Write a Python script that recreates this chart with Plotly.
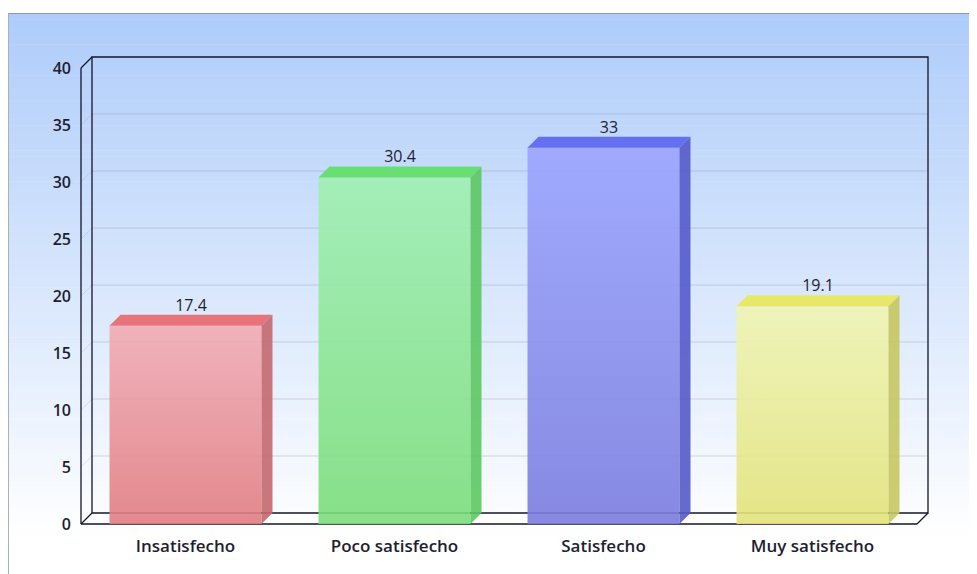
import plotly.graph_objects as go

# ---- data ----
categories = ["Insatisfecho", "Poco satisfecho", "Satisfecho", "Muy satisfecho"]
values = [17.4, 30.4, 33, 19.1]
value_labels = ["17.4", "30.4", "33", "19.1"]
y_ticks = [0, 5, 10, 15, 20, 25, 30, 35, 40]

# ---- styles ----
front_top = ["rgba(242,172,180,0.9)", "rgba(160,240,178,0.9)", "rgba(155,165,255,0.9)", "rgba(240,245,178,0.9)"]
front_bot = ["rgba(224,124,128,0.9)", "rgba(122,220,122,0.9)", "rgba(122,124,222,0.9)", "rgba(226,226,122,0.9)"]
top_col = ["rgba(232,110,116,0.95)", "rgba(100,222,108,0.95)", "rgba(96,106,240,0.95)", "rgba(232,232,98,0.95)"]
side_col = ["rgba(196,104,110,0.9)", "rgba(92,200,98,0.9)", "rgba(84,90,200,0.9)", "rgba(198,198,96,0.9)"]

OFF = 8  # page body margin
W, H = 977 - OFF, 574 - OFF
# pixel geometry of the 3D box (figure coordinates)
X0, X1 = 81 - OFF, 917 - OFF      # front left / right
Y0, Y40 = 524 - OFF, 68 - OFF     # front value 0 / 40
DXP, DYP = 11, 11                 # depth offset in px
PAD = 2
pxu_x = (X1 - X0) / 4.0
pxu_y = (Y0 - Y40) / 40.0
dx = DXP / pxu_x
dy = DYP / pxu_y
L, R = X0 - PAD, X1 + DXP + PAD
T, B = Y40 - DYP - PAD, Y0 + PAD
bar_w = 152 / pxu_x

def px_to_paper_x(p):
    return (p - L) / (R - L)

def px_to_paper_y(p):
    return (B - p) / (B - T)

fig = go.Figure()

xs = list(range(len(categories)))
for i, v in enumerate(values):
    x0 = xs[i] - bar_w / 2
    x1 = xs[i] + bar_w / 2
    # front face
    fig.add_trace(go.Scatter(
        x=[x0, x1, x1, x0, x0], y=[0, 0, v, v, 0], mode="lines", fill="toself",
        line=dict(width=0), fillcolor=front_bot[i],
        fillgradient=dict(type="vertical", colorscale=[[0, front_bot[i]], [1, front_top[i]]]),
        hoverinfo="skip", showlegend=False))
    # top face
    fig.add_trace(go.Scatter(
        x=[x0, x1, x1 + dx, x0 + dx, x0], y=[v, v, v + dy, v + dy, v], mode="lines", fill="toself",
        line=dict(width=0), fillcolor=top_col[i], hoverinfo="skip", showlegend=False))
    # side face
    fig.add_trace(go.Scatter(
        x=[x1, x1 + dx, x1 + dx, x1, x1], y=[0, dy, v + dy, v, 0], mode="lines", fill="toself",
        line=dict(width=0), fillcolor=side_col[i], hoverinfo="skip", showlegend=False))

# value labels
fig.add_trace(go.Scatter(
    x=[x + dx / 2 for x in xs], y=[v + dy for v in values], mode="text",
    text=value_labels, textposition="top center",
    textfont=dict(family="Open Sans", size=16, color="#1e1e30"),
    cliponaxis=False, hoverinfo="skip", showlegend=False))

shapes = []
# background gradient bands (container)
top_px, grad_end = 13 - OFF, 540 - OFF
c_top = (174, 204, 250)
nb = 90
for k in range(nb):
    p0 = top_px + (H - top_px) * k / nb
    p1 = top_px + (H - top_px) * (k + 1) / nb + 0.5
    t = min(1.0, max(0.0, ((p0 + p1) / 2 - top_px) / (grad_end - top_px)))
    col = tuple(int(round(c + (255 - c) * t)) for c in c_top)
    shapes.append(dict(type="rect", xref="paper", yref="paper", layer="below",
                       x0=px_to_paper_x(0), x1=px_to_paper_x(W + 2),
                       y0=px_to_paper_y(p1), y1=px_to_paper_y(p0),
                       fillcolor="rgb(%d,%d,%d)" % col, line=dict(width=0)))
# container border
shapes.append(dict(type="line", xref="paper", yref="paper", layer="below",
                   x0=px_to_paper_x(0.5), x1=px_to_paper_x(W + 2),
                   y0=px_to_paper_y(top_px + 0.5), y1=px_to_paper_y(top_px + 0.5),
                   line=dict(color="#8e98a6", width=1)))
shapes.append(dict(type="line", xref="paper", yref="paper", layer="below",
                   x0=px_to_paper_x(0.5), x1=px_to_paper_x(0.5),
                   y0=px_to_paper_y(top_px + 0.5), y1=px_to_paper_y(H + 2),
                   line=dict(color="#a8b0bb", width=1)))

xl, xr = -0.5, 3.5
# floor (white)
shapes.append(dict(type="path", xref="x", yref="y", layer="below",
                   path=f"M{xl},0 L{xr},0 L{xr+dx},{dy} L{xl+dx},{dy} Z",
                   fillcolor="white", line=dict(width=0)))
# gridlines on back wall + side wall
for v in y_ticks[1:-1]:
    shapes.append(dict(type="line", xref="x", yref="y", layer="below",
                       x0=xl + dx, x1=xr + dx, y0=v + dy, y1=v + dy,
                       line=dict(color="rgba(120,125,140,0.28)", width=1)))
    shapes.append(dict(type="line", xref="x", yref="y", layer="below",
                       x0=xl, x1=xl + dx, y0=v, y1=v + dy,
                       line=dict(color="rgba(120,125,140,0.18)", width=1)))
edge = dict(color="#14142a", width=1.3)
# back wall outline
shapes.append(dict(type="rect", xref="x", yref="y", layer="below",
                   x0=xl + dx, x1=xr + dx, y0=dy, y1=40 + dy, line=edge))
# front axis lines and depth diagonals
shapes.append(dict(type="line", xref="x", yref="y", layer="below", x0=xl, x1=xl, y0=0, y1=40, line=edge))
shapes.append(dict(type="line", xref="x", yref="y", layer="below", x0=xl, x1=xr, y0=0, y1=0, line=edge))
shapes.append(dict(type="line", xref="x", yref="y", layer="below", x0=xl, x1=xl + dx, y0=40, y1=40 + dy, line=edge))
shapes.append(dict(type="line", xref="x", yref="y", layer="below", x0=xl, x1=xl + dx, y0=0, y1=dy, line=edge))
shapes.append(dict(type="line", xref="x", yref="y", layer="below", x0=xr, x1=xr + dx, y0=0, y1=dy, line=edge))

fig.update_layout(
    width=W, height=H,
    margin=dict(l=L, r=W - R, t=T, b=H - B, pad=0),
    paper_bgcolor="white", plot_bgcolor="rgba(0,0,0,0)",
    shapes=shapes, showlegend=False,
    font=dict(family="Open Sans", color="#1e1e30"),
)
fig.update_xaxes(
    range=[xl - PAD / pxu_x, xr + (DXP + PAD) / pxu_x],
    tickmode="array", tickvals=xs, ticktext=categories,
    tickfont=dict(family="Open Sans", size=17, color="#1e1e30", weight=600),
    showgrid=False, zeroline=False, showline=False, ticks="", ticklabelstandoff=8,
    fixedrange=True)
fig.update_yaxes(
    range=[-PAD / pxu_y, 40 + (DYP + PAD) / pxu_y],
    tickmode="array", tickvals=y_ticks, ticktext=[str(t) for t in y_ticks],
    tickfont=dict(family="Open Sans", size=16, color="#1e1e30", weight=600),
    showgrid=False, zeroline=False, showline=False, ticks="", ticklabelstandoff=7,
    fixedrange=True)

fig.write_html("out.html")
